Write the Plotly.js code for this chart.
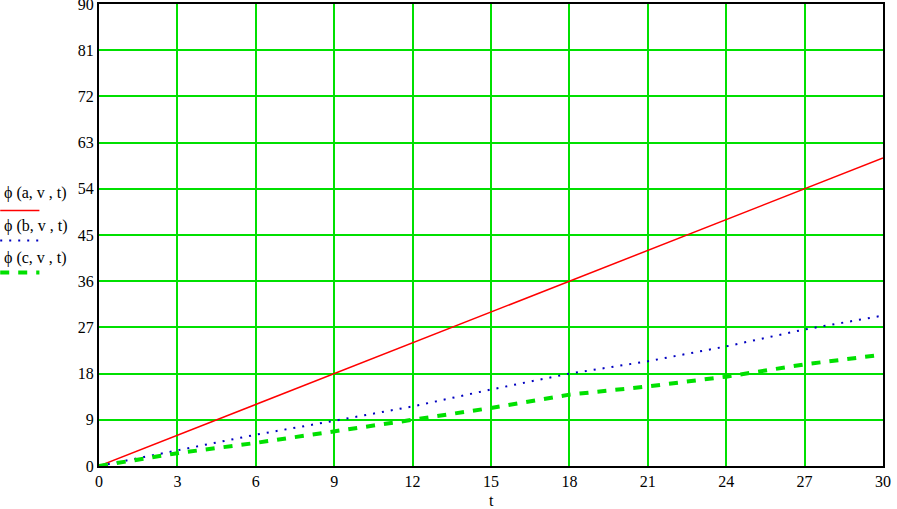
<!DOCTYPE html>
<html>
<head>
<meta charset="utf-8">
<script src="https://cdn.plot.ly/plotly-3.0.1.min.js"></script>
<style>
  html, body { margin: 0; padding: 0; background: #fff; }
  #chart { width: 897px; height: 509px; }
</style>
</head>
<body>
<div id="chart"></div>
<script>
  const t = [0, 3, 6, 9, 12, 15, 18, 21, 24, 27, 30]
  const phiA = [0, 6, 12, 18, 24, 30, 36, 42, 48, 54, 60]
  const phiB = [0, 3.1, 6.1, 8.8, 11.6, 14.9, 18.0, 20.4, 23.3, 26.6, 29.3]
  const phiC = [0, 2.5, 4.5, 6.7, 9.0, 11.3, 13.9, 15.5, 17.4, 19.8, 21.7]
  const legendNames = ["\u03d5 (a, v , t)", "\u03d5 (b, v , t)", "\u03d5 (c, v , t)"]
  const xTicks = [0, 3, 6, 9, 12, 15, 18, 21, 24, 27, 30]
  const yTicks = [0, 9, 18, 27, 36, 45, 54, 63, 72, 81, 90]

  const serif = "'Liberation Serif', 'DejaVu Serif', serif"

  const data = [
    {x: t, y: phiA, type: "scatter", mode: "lines", line: {color: "#ff0000", width: 1.5}},
    {x: t, y: phiB, type: "scatter", mode: "lines", line: {color: "#0000c0", width: 2, dash: "2px,7px"}},
    {x: t, y: phiC, type: "scatter", mode: "lines", line: {color: "#00e000", width: 4, dash: "9px,9px"}}
  ]

  // legend: text with sample line beneath, left of the axis
  const textY = [0.59, 0.52, 0.45]
  const lineY = [0.553, 0.488, 0.419]
  const sampleStyles = [
    {color: "#ff0000", width: 1.5, dash: "solid"},
    {color: "#0000c0", width: 2, dash: "2px,7px"},
    {color: "#00e000", width: 4, dash: "9px,9px"}
  ]
  const annotations = legendNames.map((name, i) => ({
    xref: "paper", yref: "paper", x: -0.124, y: textY[i],
    xanchor: "left", yanchor: "middle", showarrow: false,
    text: name, font: {family: serif, size: 16, color: "#000"}
  }))
  annotations.push({
    xref: "paper", yref: "paper", x: 0.5, y: -0.075, yanchor: "middle",
    showarrow: false, text: "t", font: {family: serif, size: 16, color: "#000"}
  })
  const shapes = sampleStyles.map((s, i) => ({
    type: "line", xref: "paper", yref: "paper",
    x0: -0.126, x1: -0.076, y0: lineY[i], y1: lineY[i],
    line: s
  }))

  Plotly.newPlot("chart", data, {
    width: 897, height: 509,
    margin: {l: 99, r: 14, t: 4, b: 43},
    paper_bgcolor: "#fff", plot_bgcolor: "#fff",
    showlegend: false,
    font: {family: serif, size: 16, color: "#000"},
    xaxis: {
      range: [0, 30], tickvals: xTicks, ticktext: xTicks.map(String),
      showgrid: true, gridcolor: "#00e000", gridwidth: 2,
      showline: true, linecolor: "#000", linewidth: 2, mirror: true,
      zeroline: false, ticks: "", ticklen: 0, ticklabeloverflow: "allow",
      tickfont: {family: serif, size: 16}
    },
    yaxis: {
      range: [0, 90], tickvals: yTicks, ticktext: yTicks.map(String),
      showgrid: true, gridcolor: "#00e000", gridwidth: 2,
      showline: true, linecolor: "#000", linewidth: 2, mirror: true,
      zeroline: false, ticks: "", ticklen: 0, ticklabeloverflow: "allow",
      tickfont: {family: serif, size: 16}
    },
    annotations, shapes
  }, {staticPlot: true, displayModeBar: false})
</script>
</body>
</html>
